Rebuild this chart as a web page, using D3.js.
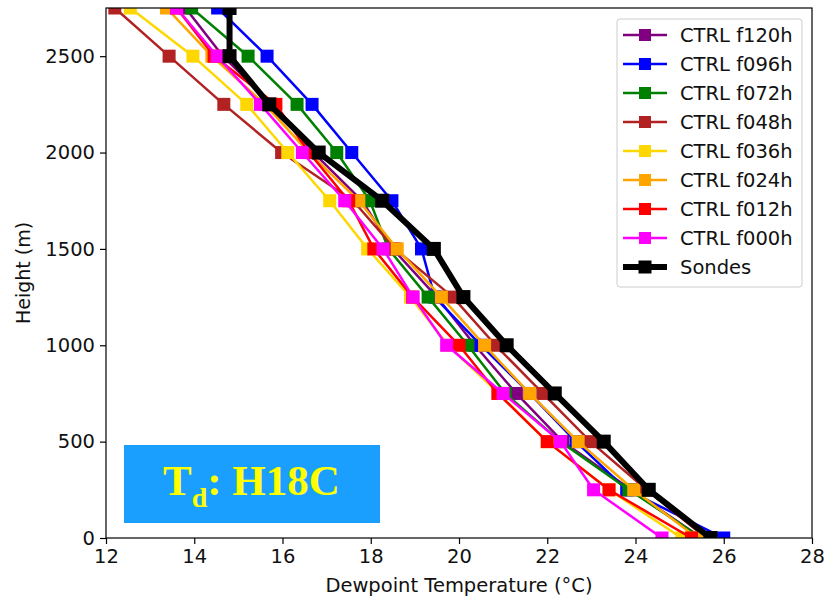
<!DOCTYPE html>
<html>
<head>
<meta charset="utf-8">
<script src="https://cdn.jsdelivr.net/npm/d3@7"></script>
<style>
  body { margin: 0; background: #fff; }
  svg { font-family: "DejaVu Sans", sans-serif; }
</style>
</head>
<body>
<div id="chart"></div>
<script>
const heights = [0, 250, 500, 750, 1000, 1250, 1500, 1750, 2000, 2250, 2500, 2750];

const f120h = [25.5, 23.9, 22.35, 21.3, 20.36, 19.5, 18.5, 17.8, 16.7, 15.75, 14.65, 13.8];
const f096h = [26.0, 23.8, 22.65, 21.6, 20.5, 19.45, 19.15, 18.48, 17.57, 16.67, 15.65, 14.53];
const f072h = [25.5, 23.85, 22.3, 21.05, 20.2, 19.3, 18.4, 17.98, 17.23, 16.33, 15.22, 13.94];
const f048h = [25.6, 24.25, 22.98, 21.9, 20.83, 19.86, 18.55, 17.6, 15.98, 14.67, 13.43, 12.2];
const f036h = [25.05, 23.4, 22.0, 20.9, 19.75, 18.9, 17.93, 17.07, 16.12, 15.19, 13.97, 12.55];
const f024h = [25.4, 23.96, 22.7, 21.6, 20.58, 19.6, 18.6, 17.73, 16.6, 15.6, 14.4, 13.37];
const f012h = [25.27, 23.4, 22.0, 20.88, 20.0, 18.95, 18.07, 17.5, 16.6, 15.85, 14.45, 13.6];
const f000h = [24.6, 23.05, 22.3, 21.0, 19.72, 18.96, 18.28, 17.41, 16.45, 15.5, 14.52, 13.6];
const sondes = [25.7, 24.3, 23.28, 22.17, 21.08, 20.1, 19.43, 18.26, 16.82, 15.7, 14.8, 14.8];

const seriesNames = ["CTRL f120h", "CTRL f096h", "CTRL f072h", "CTRL f048h", "CTRL f036h",
                     "CTRL f024h", "CTRL f012h", "CTRL f000h", "Sondes"];
const seriesValues = [f120h, f096h, f072h, f048h, f036h, f024h, f012h, f000h, sondes];
const seriesColors = ["#800080", "#0000ff", "#008000", "#b22222", "#ffd700",
                      "#ffa500", "#ff0000", "#ff00ff", "#000000"];

const xTicks = [12, 14, 16, 18, 20, 22, 24, 26, 28];
const yTicks = [0, 500, 1000, 1500, 2000, 2500];

const width = 827, height = 597;
const margin = {left: 106, right: 15, top: 8, bottom: 59};

const svg = d3.select("#chart").append("svg")
    .attr("width", width)
    .attr("height", height);

const x = d3.scaleLinear().domain([12, 28]).range([margin.left, width - margin.right]);
const y = d3.scaleLinear().domain([0, 2750]).range([height - margin.bottom, margin.top]);

svg.append("clipPath").attr("id", "plotclip")
  .append("rect")
    .attr("x", x(12)).attr("y", y(2750))
    .attr("width", x(28) - x(12)).attr("height", y(0) - y(2750));

const plot = svg.append("g").attr("clip-path", "url(#plotclip)");

const line = d3.line()
    .x(d => x(d[0]))
    .y(d => y(d[1]));

seriesValues.forEach((vals, i) => {
    const pts = vals.map((v, j) => [v, heights[j]]);
    const isSonde = seriesNames[i] === "Sondes";
    const ms = isSonde ? 14 : 13;
    const g = plot.append("g");
    g.append("path")
        .datum(pts)
        .attr("d", line)
        .attr("fill", "none")
        .attr("stroke", seriesColors[i])
        .attr("stroke-width", isSonde ? 6 : 2.5)
        .attr("stroke-linejoin", "round");
    g.selectAll("rect")
        .data(pts)
        .enter().append("rect")
        .attr("x", d => x(d[0]) - ms / 2)
        .attr("y", d => y(d[1]) - ms / 2)
        .attr("width", ms)
        .attr("height", ms)
        .attr("fill", seriesColors[i]);
});

// frame
svg.append("rect")
    .attr("x", x(12)).attr("y", y(2750))
    .attr("width", x(28) - x(12)).attr("height", y(0) - y(2750))
    .attr("fill", "none")
    .attr("stroke", "#000")
    .attr("stroke-width", 1.2);

const xAxis = svg.append("g")
    .attr("transform", `translate(0,${y(0)})`)
    .call(d3.axisBottom(x).tickValues(xTicks).tickSize(6).tickPadding(5).tickFormat(d3.format("d")));
const yAxis = svg.append("g")
    .attr("transform", `translate(${x(12)},0)`)
    .call(d3.axisLeft(y).tickValues(yTicks).tickSize(6).tickPadding(5).tickFormat(d3.format("d")));

[xAxis, yAxis].forEach(a => {
    a.select(".domain").remove();
    a.selectAll("text").attr("font-size", 19.5).attr("fill", "#111").attr("font-family", "DejaVu Sans");
    a.selectAll("line").attr("stroke", "#000").attr("stroke-width", 1.2);
});

svg.append("text")
    .attr("x", (x(12) + x(28)) / 2)
    .attr("y", 592)
    .attr("text-anchor", "middle")
    .attr("font-size", 19.5)
    .attr("fill", "#111")
    .text("Dewpoint Temperature (°C)");

svg.append("text")
    .attr("transform", `translate(30,${(y(0) + y(2750)) / 2}) rotate(-90)`)
    .attr("text-anchor", "middle")
    .attr("font-size", 19)
    .attr("fill", "#111")
    .text("Height (m)");

// legend
const legend = svg.append("g");
legend.append("rect")
    .attr("x", 617).attr("y", 19)
    .attr("width", 185).attr("height", 268)
    .attr("rx", 3)
    .attr("fill", "#fff")
    .attr("stroke", "#ccc");

seriesNames.forEach((name, i) => {
    const ly = 35 + i * 29;
    const isSonde = name === "Sondes";
    const ms = isSonde ? 13 : 12;
    legend.append("line")
        .attr("x1", 623).attr("x2", 667)
        .attr("y1", ly).attr("y2", ly)
        .attr("stroke", seriesColors[i])
        .attr("stroke-width", isSonde ? 6 : 2.5);
    legend.append("rect")
        .attr("x", 645 - ms / 2).attr("y", ly - ms / 2)
        .attr("width", ms).attr("height", ms)
        .attr("fill", seriesColors[i]);
    legend.append("text")
        .attr("x", 680).attr("y", ly + 7)
        .attr("font-size", 19.5)
        .attr("fill", "#111")
        .text(name);
});

// annotation box
svg.append("rect")
    .attr("x", 124).attr("y", 445)
    .attr("width", 256).attr("height", 78)
    .attr("fill", "#1a9fff");

const ann = svg.append("text")
    .attr("x", 163).attr("y", 495)
    .attr("font-family", "Liberation Serif, serif")
    .attr("font-weight", "bold")
    .attr("font-size", 43)
    .attr("fill", "#ffff00");
ann.append("tspan").text("T");
ann.append("tspan").attr("font-size", 28).attr("dy", 12).text("d");
ann.append("tspan").attr("dy", -12).text(": H18C");
</script>
</body>
</html>
